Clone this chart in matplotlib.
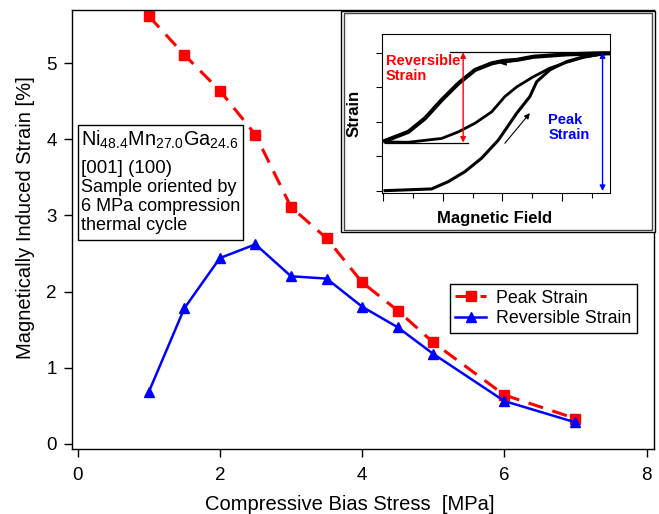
import matplotlib
matplotlib.use("Agg")
import matplotlib.pyplot as plt
from matplotlib.patches import Rectangle

plt.rcParams["font.family"] = ["Liberation Sans", "DejaVu Sans"]
plt.rcParams["mathtext.fontset"] = "custom"
plt.rcParams["mathtext.rm"] = "Liberation Sans"
plt.rcParams["mathtext.it"] = "Liberation Sans:italic"

# --- hoveddata ---
stress = [1.0, 1.5, 2.0, 2.5, 3.0, 3.5, 4.0, 4.5, 5.0, 6.0, 7.0]
peak_strain = [5.62, 5.11, 4.64, 4.06, 3.11, 2.70, 2.12, 1.75, 1.33, 0.64, 0.33]
reversible_strain = [0.68, 1.78, 2.44, 2.62, 2.20, 2.17, 1.80, 1.53, 1.18, 0.56, 0.28]
x_ticks = [0, 2, 4, 6, 8]
y_ticks = [0, 1, 2, 3, 4, 5]

info_lines = [r"Ni$_{48.4}$Mn$_{27.0}$Ga$_{24.6}$", "[001] (100)",
              "Sample oriented by", "6 MPa compression", "thermal cycle"]

# --- inset: hysteresekurver (vilkårlige enheder) ---
virgin_field = [0.06, 1.62, 2.18, 2.74, 3.30, 3.86, 4.48, 4.92, 5.15, 5.59, 6.15, 6.71, 7.55]
virgin_strain = [0.01, 0.06, 0.27, 0.56, 0.95, 1.47, 2.25, 2.73, 3.16, 3.50, 3.74, 3.88, 3.98]
upper_field = [0.06, 0.84, 1.40, 1.96, 2.52, 3.08, 3.64, 4.03, 4.48, 5.03, 6.15, 7.27, 7.55]
upper_strain = [1.45, 1.71, 2.10, 2.63, 3.11, 3.50, 3.69, 3.76, 3.79, 3.88, 3.95, 3.98, 3.98]
lower_field = [0.06, 0.84, 1.96, 2.52, 3.08, 3.64, 4.08, 4.48, 5.03, 5.59, 6.15, 6.71, 7.27]
lower_strain = [1.42, 1.41, 1.52, 1.71, 1.96, 2.29, 2.73, 3.01, 3.30, 3.55, 3.72, 3.86, 3.95]
plateau = 4.01          # toppen af begge pile
loop_bottom = 1.40      # bunden af den reversible strain
rev_arrow_x = 2.68
peak_arrow_x = 7.36

W, H = 659, 514


def fx(px):
    return px / W


def fy(py):
    return 1 - py / H


fig = plt.figure(figsize=(W / 100, H / 100), dpi=100)
ax = fig.add_axes([fx(72), fy(449), fx(653.7) - fx(72), fy(10) - fy(449)])

ax.plot(stress, peak_strain, color="#ff0000", lw=2.2, dashes=(5, 3.2),
        marker="s", ms=7, label="Peak Strain")
ax.plot(stress, reversible_strain, color="#0000ff", lw=1.8,
        marker="^", ms=7.5, label="Reversible Strain")

ax.set_xlim(-0.08, 8.1)
ax.set_ylim(-0.07, 5.70)
ax.set_xticks(x_ticks)
ax.set_yticks(y_ticks)
ax.tick_params(direction="out", length=6, width=1, labelsize=13.5)
ax.tick_params(axis="x", pad=7)
ax.tick_params(axis="y", pad=5)
for s in ax.spines.values():
    s.set_linewidth(1)
ax.set_xlabel("Compressive Bias Stress  [MPa]", fontsize=14.5)
ax.set_ylabel("Magnetically Induced Strain [%]", fontsize=14.5)
ax.xaxis.set_label_coords((349.5 - 72) / (653.7 - 72), -(495 - 449) / 439)
ax.yaxis.set_label_coords(-(72 - 35) / (653.7 - 72), (449 - 218) / 439)

ax.legend(loc="upper left", bbox_to_anchor=((450 - 72) / 581.7, (449 - 284.3) / 439),
          borderaxespad=0, fontsize=12.8, handlelength=1.75, handletextpad=0.55,
          labelspacing=0.2, borderpad=0.3, fancybox=False, framealpha=1,
          edgecolor="black")

# tekstboks med prøveinfo
fig.patches.append(Rectangle((fx(78.3), fy(240)), fx(243.3) - fx(78.3), fy(125) - fy(240),
                             transform=fig.transFigure, facecolor="white",
                             edgecolor="black", lw=1, zorder=2))
baselines = [146, 173, 192, 211, 229.5]
sizes = [14.3, 13.5, 13, 13, 13]
for tekst, base, st in zip(info_lines, baselines, sizes):
    fig.text(fx(81), fy(base), tekst, fontsize=st, va="baseline", ha="left", zorder=3)

# ramme om inset (dobbelt streg)
fig.patches.append(Rectangle((fx(341), fy(232)), fx(654.5) - fx(341), fy(10.5) - fy(232),
                             transform=fig.transFigure, facecolor="white",
                             edgecolor="black", lw=1, zorder=2))
fig.patches.append(Rectangle((fx(343.5), fy(229.5)), fx(652) - fx(343.5), fy(13) - fy(229.5),
                             transform=fig.transFigure, facecolor="none",
                             edgecolor="#444444", lw=1, zorder=2))

ax_in = fig.add_axes([fx(381.7), fy(192.7), fx(610) - fx(381.7), fy(34.3) - fy(192.7)])
ax_in.set_zorder(3)
ax_in.plot(virgin_field, virgin_strain, color="black", lw=2.2)
ax_in.plot(lower_field, lower_strain, color="black", lw=2.0)
ax_in.plot(upper_field, upper_strain, color="black", lw=3.0)
ax_in.plot([2.24, 7.61], [plateau, plateau], color="black", lw=0.9)
ax_in.plot([0.06, 2.85], [loop_bottom, loop_bottom], color="black", lw=0.9)
ax_in.set_xlim(-0.054, 7.61)
ax_in.set_ylim(-0.049, 4.53)
ax_in.set_yticks([0, 1, 2, 3, 4])
ax_in.set_xticks([0, 2, 4, 6])
ax_in.set_xticks([1, 3, 5, 7], minor=True)
ax_in.tick_params(labelleft=False, labelbottom=False, direction="out", width=0.8)
ax_in.tick_params(axis="y", length=4.3)
ax_in.tick_params(axis="x", which="major", length=6)
ax_in.tick_params(axis="x", which="minor", length=3.5, width=0.8)
for s in ax_in.spines.values():
    s.set_linewidth(0.8)

ax_in.annotate("", xy=(rev_arrow_x, plateau), xytext=(rev_arrow_x, loop_bottom),
               arrowprops=dict(arrowstyle="<|-|>", color="#ff0000", lw=1,
                               mutation_scale=8, shrinkA=0, shrinkB=0))
ax_in.annotate("", xy=(peak_arrow_x, plateau), xytext=(peak_arrow_x, 0),
               arrowprops=dict(arrowstyle="<|-|>", color="#0000ff", lw=1,
                               mutation_scale=8, shrinkA=0, shrinkB=0))
ax_in.annotate("", xy=(4.92, 2.25), xytext=(4.08, 1.38),
               arrowprops=dict(arrowstyle="-|>", color="black", lw=0.8,
                               mutation_scale=8, shrinkA=0, shrinkB=0))
ax_in.annotate("", xy=(3.92, 3.68), xytext=(5.0, 3.84),
               arrowprops=dict(arrowstyle="-|>", color="black", lw=0.7,
                               mutation_scale=9, shrinkA=0, shrinkB=0))
ax_in.text(0.09, 3.95, "Reversible\nStrain", color="#ff0000", fontsize=10.5,
           fontweight="bold", va="top", ha="left", linespacing=1.1)
ax_in.text(5.54, 2.25, "Peak\nStrain", color="#0000ff", fontsize=10.5,
           fontweight="bold", va="top", ha="left", linespacing=1.1)

fig.text(fx(495), fy(219), "Magnetic Field", fontsize=12, fontweight="bold",
         ha="center", va="center", zorder=4)
fig.text(fx(354), fy(113), "Strain", fontsize=12, fontweight="bold", rotation=90,
         ha="center", va="center", zorder=4)

fig.savefig("out.png", dpi=100)
